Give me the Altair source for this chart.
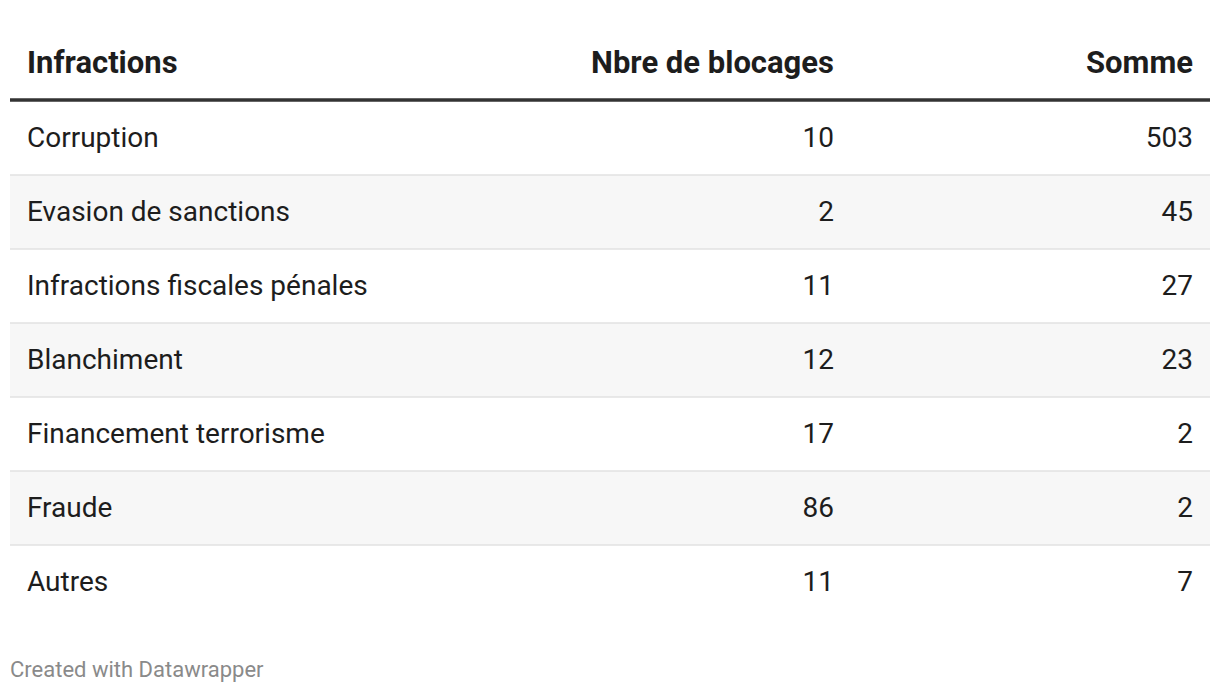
import altair as alt
import pandas as pd

infractions = ["Corruption", "Evasion de sanctions", "Infractions fiscales pénales",
               "Blanchiment", "Financement terrorisme", "Fraude", "Autres"]
nbre_blocages = [10, 2, 11, 12, 17, 86, 11]
somme = [503, 45, 27, 23, 2, 2, 7]
headers = ["Infractions", "Nbre de blocages", "Somme"]
footer = "Created with Datawrapper"

W, H = 1204, 678
FONT = "Roboto"
COLX = [19, 826, 1185]
BODY = 28
HEAD = 31

rows = pd.DataFrame({
    "row": infractions,
    "idx": list(range(len(infractions))),
    "nbre": nbre_blocages,
    "somme": somme,
})
rows["shade"] = rows["idx"] % 2 == 1
rows["last"] = rows["idx"] == len(infractions) - 1

yscale = alt.Scale(domain=infractions, range=[93, 611], paddingInner=0, paddingOuter=0)
Yrow = lambda bp: alt.Y("row:N", scale=yscale, axis=None, bandPosition=bp)

base = alt.Chart(rows)

stripes = base.transform_filter("datum.shade").mark_rect(color="#f7f7f7").encode(
    y=alt.Y("row:N", scale=yscale, axis=None),
    x=alt.value(2), x2=alt.value(1202),
)

seps = base.transform_filter("!datum.last").mark_rule(color="#e2e2e2", strokeWidth=1.5).encode(
    y=Yrow(1), x=alt.value(2), x2=alt.value(1202),
)

txt = dict(baseline="middle", font=FONT, fontSize=BODY, color="#1d1d1d", dy=1)
labels = base.mark_text(align="left", **txt).encode(y=Yrow(0.5), x=alt.value(COLX[0]), text="row:N")
nums1 = base.mark_text(align="right", **txt).encode(y=Yrow(0.5), x=alt.value(COLX[1]), text="nbre:Q")
nums2 = base.mark_text(align="right", **txt).encode(y=Yrow(0.5), x=alt.value(COLX[2]), text="somme:Q")

hdr = pd.DataFrame({"col": headers})
htxt = dict(baseline="middle", font=FONT, fontSize=HEAD, fontWeight="bold", color="#1d1d1d")
hdrs = []
for i, h in enumerate(headers):
    hdrs.append(
        alt.Chart(hdr).transform_filter(alt.datum.col == h).mark_text(
            align="left" if i == 0 else "right", **htxt
        ).encode(x=alt.value(COLX[i]), y=alt.value(56), text="col:N")
    )

hline = alt.Chart(hdr).transform_filter(alt.datum.col == headers[0]).mark_rule(
    color="#333333", strokeWidth=3.5
).encode(x=alt.value(2), x2=alt.value(1202), y=alt.value(92))

foot = alt.Chart(pd.DataFrame({"t": [footer]})).mark_text(
    align="left", baseline="middle", font=FONT, fontSize=22, color="#8a8a8a"
).encode(x=alt.value(2), y=alt.value(662), text="t:N")

chart = alt.layer(stripes, seps, hline, labels, nums1, nums2, *hdrs, foot).properties(
    width=W, height=H, padding=0, autosize=alt.AutoSizeParams(type="none"), background="white"
).configure_view(stroke=None)

chart.save("out.html", embed_options={"renderer": "svg", "actions": False})
